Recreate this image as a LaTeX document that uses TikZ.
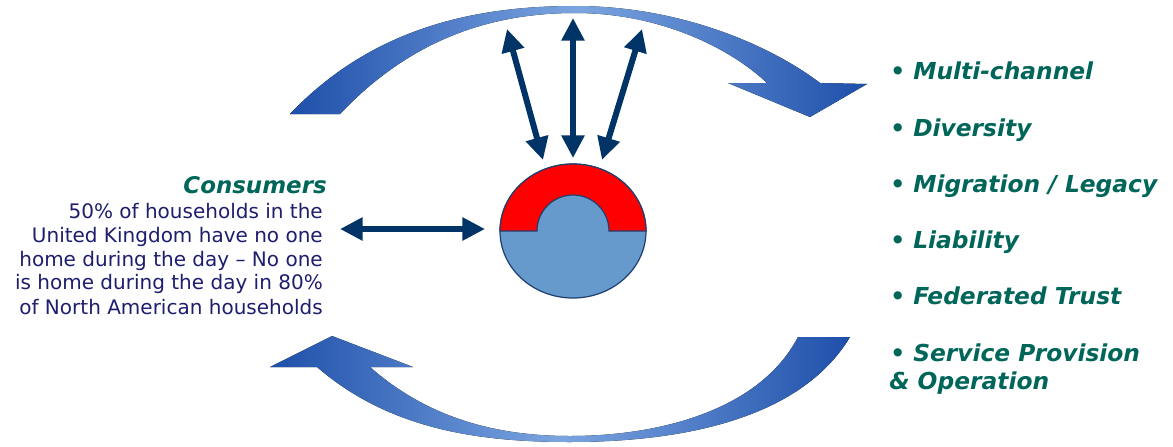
\documentclass[tikz,border=0pt]{standalone}
\usepackage{fontspec}
\setmainfont{DejaVu Sans}
\usetikzlibrary{arrows.meta}
\definecolor{navy}{HTML}{003366}
\definecolor{arcdark}{HTML}{1E4FAA}
\definecolor{arclight}{HTML}{7BA5E0}
\definecolor{cblue}{HTML}{6699CC}
\definecolor{cred}{HTML}{FF0000}
\definecolor{cedge}{HTML}{1F3F6F}
\definecolor{teal}{HTML}{00665A}
\definecolor{bodyc}{HTML}{1E1E6E}
\tikzset{
  dblarrow/.style={draw=navy, line width=4.5pt, {Triangle[length=17pt,width=16.5pt]}-{Triangle[length=17pt,width=16.5pt]}},
  bodytext/.style={anchor=base east, inner sep=0pt, text=bodyc, font=\fontsize{15pt}{18pt}\selectfont},
  headtext/.style={anchor=base east, inner sep=0pt, text=teal, font=\fontsize{17.2pt}{20pt}\selectfont\bfseries\itshape},
  listtext/.style={anchor=base west, inner sep=0pt, text=teal, font=\fontsize{17.5pt}{21pt}\selectfont\bfseries\itshape}
}
\begin{document}
\begin{tikzpicture}[x=0.75pt,y=-0.75pt]
\useasboundingbox[fill=white] (0,0) rectangle (1173,446);
% top curved arrow
\fill[left color=arcdark, right color=arcdark, middle color=arclight]
  (290,114) .. controls (370,30) and (470,6) .. (575,6)
  .. controls (680,6) and (770,45) .. (820,83)
  -- (867,84) -- (810,117) -- (728,83) -- (767,83)
  .. controls (730,48) and (660,13) .. (575,13)
  .. controls (490,13) and (410,40) .. (340,114) -- cycle;
% bottom curved arrow
\fill[left color=arcdark, right color=arcdark, middle color=arclight]
  (317,367) -- (270,367) -- (332,336) -- (413,367) -- (370,367)
  .. controls (430,420) and (500,436) .. (570,436)
  .. controls (660,436) and (760,410) .. (798,337)
  -- (850,337)
  .. controls (800,420) and (680,442) .. (570,442)
  .. controls (480,442) and (390,430) .. (317,367) -- cycle;
% central disc
\filldraw[fill=cblue, draw=cedge, line width=0.9pt] (573,231) ellipse [x radius=73, y radius=67];
\filldraw[fill=cred, draw=cedge, line width=0.9pt]
  (500,231) arc[start angle=180, end angle=360, x radius=73, y radius=67]
  -- (609,231) arc[start angle=0, end angle=-180, radius=36] -- cycle;
% arrow end points
\coordinate (hl) at (340,229);
\coordinate (hr) at (485,229);
\coordinate (lb) at (543,160);
\coordinate (lt) at (507,29);
\coordinate (mb) at (573,158);
\coordinate (mt) at (573,18);
\coordinate (rb) at (602,160);
\coordinate (rt) at (642,29);
\draw[dblarrow] (hl) -- (hr);
\draw[dblarrow] (lb) -- (lt);
\draw[dblarrow] (mb) -- (mt);
\draw[dblarrow] (rb) -- (rt);
% consumer text
\node[headtext] (cons) at (327,193) {Consumers};
\node[bodytext] (b1) at (323,218) {50\% of households in the};
\node[bodytext] (b2) at (323,242) {United Kingdom have no one};
\node[bodytext] (b3) at (323,266) {home during the day – No one};
\node[bodytext] (b4) at (323,289) {is home during the day in 80\%};
\node[bodytext] (b5) at (323,314) {of North American households};
% list
\node[listtext] (l1) at (890,79) {• Multi-channel};
\node[listtext] (l2) at (890,136) {• Diversity};
\node[listtext] (l3) at (890,192) {• Migration / Legacy};
\node[listtext] (l4) at (890,248) {• Liability};
\node[listtext] (l5) at (890,304) {• Federated Trust};
\node[listtext] (l6) at (890,361) {• Service Provision};
\node[listtext] (l7) at (889,389) {\& Operation};
\end{tikzpicture}
\end{document}
